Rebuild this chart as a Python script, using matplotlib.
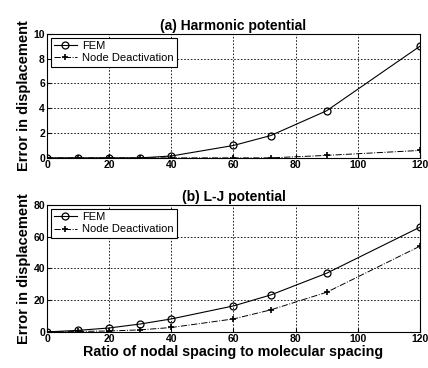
import matplotlib
matplotlib.use("Agg")
import matplotlib.pyplot as plt

plt.rcParams['font.family'] = ['Liberation Sans', 'DejaVu Sans']

x = [0, 10, 20, 30, 40, 60, 72, 90, 120]
harm_fem = [0, 0, 0, 0, 0.15, 1.0, 1.8, 3.8, 9.0]
harm_nd = [0, 0, 0, 0, 0, 0, 0, 0.2, 0.6]
lj_fem = [0, 1.0, 2.5, 5.0, 8.2, 16.4, 23.3, 37.0, 66.0]
lj_nd = [0, 0.3, 0.6, 1.3, 2.8, 8.2, 13.9, 25.0, 54.0]
xticks = [0, 20, 40, 60, 80, 100, 120]
top_yticks = [0, 2, 4, 6, 8, 10]
bot_yticks = [0, 20, 40, 60, 80]

fig = plt.figure(figsize=(4.28, 3.68), dpi=100)
ax1 = fig.add_axes([0.110, 0.571, 0.871, 0.337])
ax2 = fig.add_axes([0.110, 0.098, 0.871, 0.345])

fem_data = {ax1: harm_fem, ax2: lj_fem}
nd_data = {ax1: harm_nd, ax2: lj_nd}

def style(ax, yticks, ylim, title):
    ax.plot(x, fem_data[ax], '-', color='black', lw=0.8, marker='o', ms=5,
            mfc='none', mec='black', mew=0.9, label='FEM')
    ax.plot(x, nd_data[ax], '-.', color='black', lw=0.7, marker='+', ms=5,
            mew=1.2, label='Node Deactivation')
    ax.set_xlim(0, 120)
    ax.set_ylim(*ylim)
    ax.set_xticks(xticks)
    ax.set_yticks(yticks)
    ax.tick_params(direction='in', labelsize=7.5, length=3, pad=1.5)
    for lab in ax.get_xticklabels() + ax.get_yticklabels():
        lab.set_fontweight('bold')
    ax.grid(True, color='black', linestyle=(0, (2, 2)), lw=0.6)
    for s in ax.spines.values():
        s.set_linewidth(0.8)
    ax.set_title(title, fontsize=10, fontweight='bold', pad=3)
    ax.set_ylabel('Error in displacement', fontsize=10.5, fontweight='bold', labelpad=2)
    leg = ax.legend(loc='upper left', fontsize=8, frameon=True, fancybox=False,
                    edgecolor='black', framealpha=1, borderpad=0.3,
                    handlelength=2.0, labelspacing=0.2, borderaxespad=0.35,
                    handletextpad=0.5)
    leg.get_frame().set_linewidth(0.8)

style(ax1, top_yticks, (0, 10), '(a) Harmonic potential')
style(ax2, bot_yticks, (0, 80), '(b) L-J potential')
ax2.set_xlabel('Ratio of nodal spacing to molecular spacing', fontsize=10.3,
               fontweight='bold', labelpad=1)

fig.savefig('out.png', dpi=100)
